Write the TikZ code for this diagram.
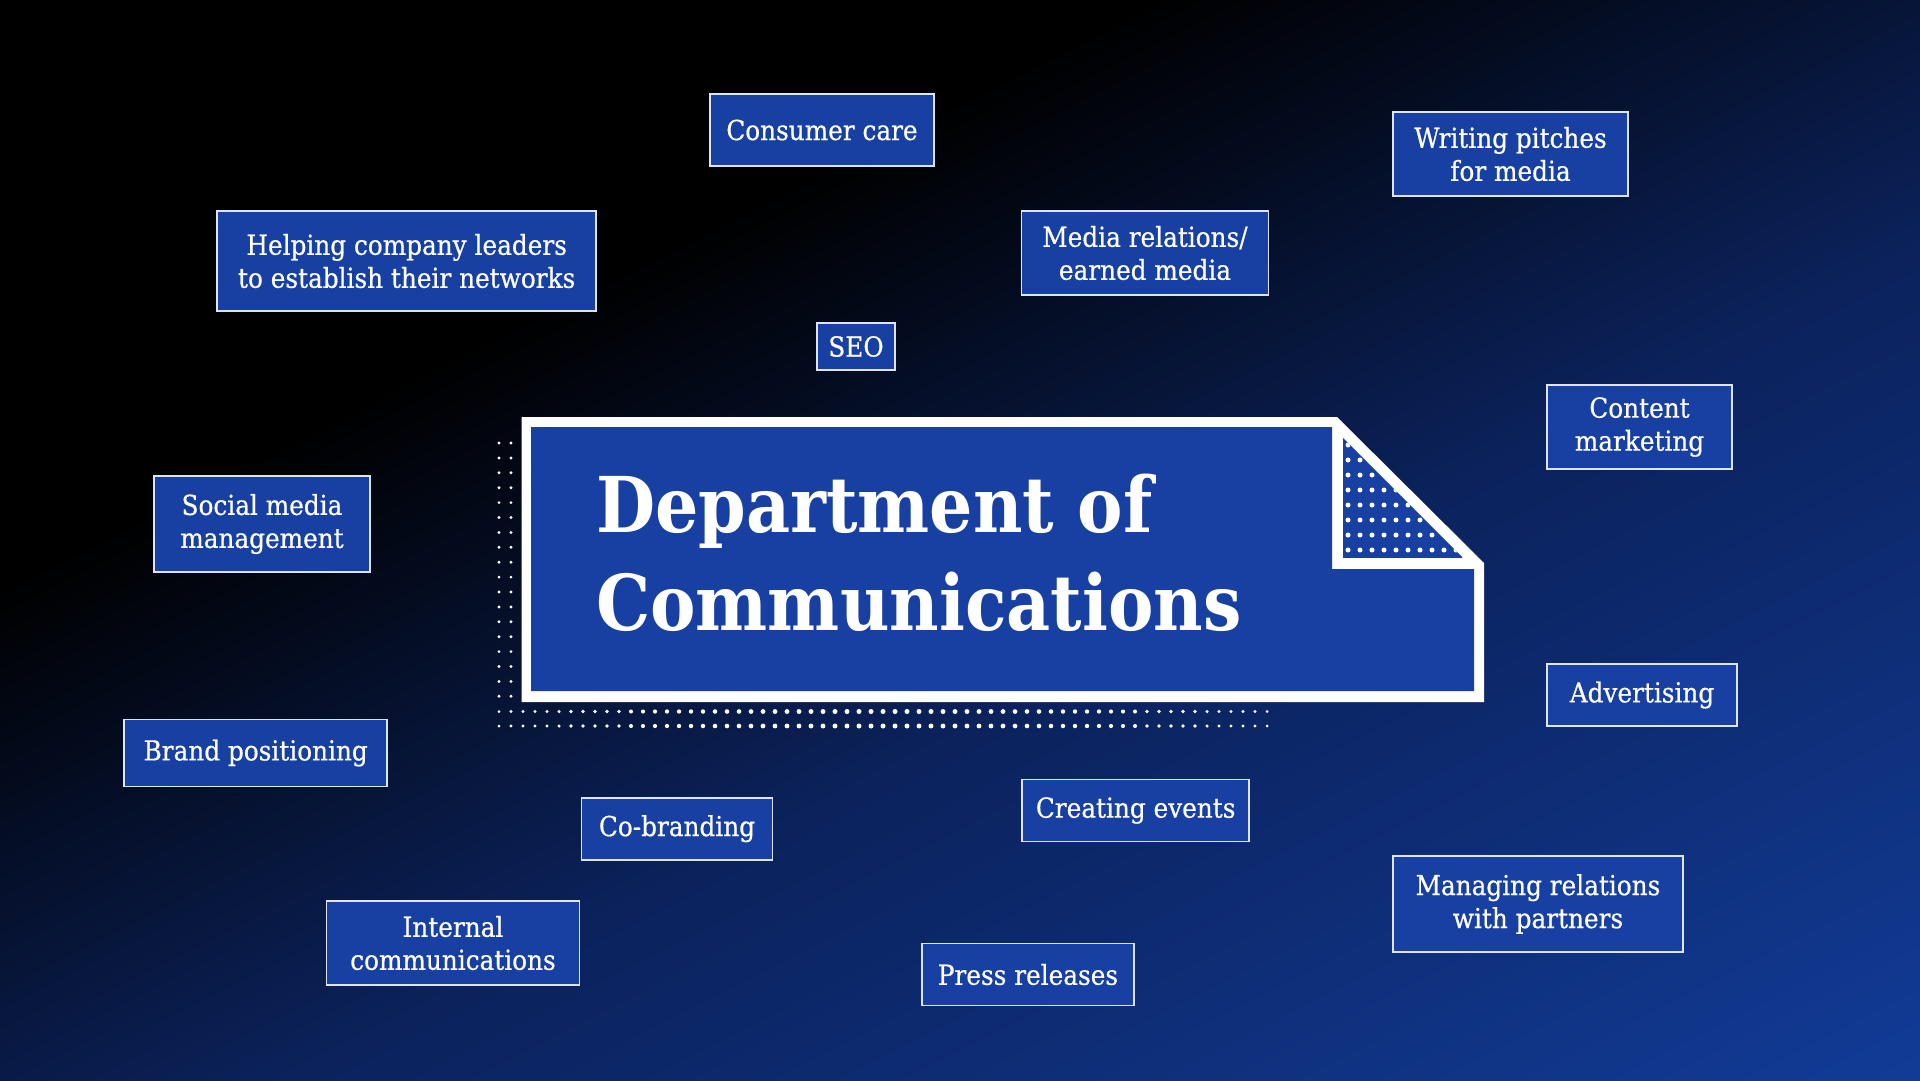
\documentclass[tikz,border=0pt]{standalone}
\usepackage{fontspec}
\setmainfont{DejaVu Serif}
\newfontfamily\boxfont{DejaVu Serif}[FakeStretch=0.9, FakeBold=0.6]
\newfontfamily\titlefont{DejaVu Serif}[FakeStretch=0.885]
\usepackage{tikz}
\usetikzlibrary{positioning, shapes.geometric}

\definecolor{deptblue}{RGB}{23,64,162}
\definecolor{edgegrey}{RGB}{222,228,242}
\definecolor{bgnavy}{RGB}{11,34,92}
\definecolor{bgblue}{RGB}{19,64,162}

\pgfdeclarehorizontalshading{bgfade}{100bp}{color(0bp)=(black); color(41bp)=(black); color(54bp)=(bgnavy); color(74bp)=(bgblue); color(100bp)=(bgblue)}

\begin{document}
\begin{tikzpicture}[x=1pt, y=-1pt]
    % Stili per i riquadri
    \tikzset{
        topic/.style={
            draw=edgegrey,
            line width=1.6pt,
            fill=deptblue,
            text=white,
            font=\boxfont\fontsize{27.5}{33}\selectfont,
            align=center,
            inner sep=0pt
        },
        title/.style={
            text=white,
            font=\titlefont\bfseries\fontsize{77}{98}\selectfont,
            inner sep=0pt
        },
        dot/.style={fill=white}
    }

    \useasboundingbox (0,0) rectangle (1920,1080);

    % --- Sfondo sfumato ---
    \begin{scope}
        \clip (0,0) rectangle (1920,1080);
        \shade[shading=bgfade, shading angle=-63] (-140,-560) rectangle (2060,1640);
    \end{scope}

    % --- Puntini a sinistra e sotto ---
    \foreach \k in {0,...,17} {
        \fill[dot] (499, 443+14.9*\k) circle (1.6);
        \fill[dot] (511, 443+14.9*\k) circle (1.6);
    }
    \foreach \j in {0,...,64} {
        \fill[dot] (499+12*\j, 711.5) circle ({1.5+1.0*sin(180*\j/64)});
        \fill[dot] (499+12*\j, 726) circle ({1.5+1.0*sin(180*\j/64)});
    }

    % --- Foglio centrale ---
    \fill[white] (521.5,417) -- (1337,417) -- (1484,563) -- (1484,702) -- (521.5,702) -- cycle;
    \fill[deptblue] (531,427) -- (1332,427) -- (1332,569) -- (1474,569) -- (1474,691) -- (531,691) -- cycle;

    % Angolo piegato con puntini
    \begin{scope}
        \clip (1343,438) -- (1343,558) -- (1463,558) -- cycle;
        \fill[deptblue] (1343,438) rectangle (1463,558);
        \foreach \i in {0,...,9} {
            \foreach \k in {0,...,7} {
                \fill[dot] (1348+12*\i, 445+15*\k) circle (2.5);
            }
        }
    \end{scope}

    % Titolo
    \node[title, anchor=base west] (titleA) at (596,532) {Department of};
    \node[title, anchor=base west] (titleB) at (596,630) {Communications};

    % --- Riquadri ---
    \node[topic, minimum width=224, minimum height=72] (consumer) at (822,130) {Consumer care};
    \node[topic, minimum width=379, minimum height=100] (leaders) at (406.7,261) {Helping company leaders\\to establish their networks};
    \node[topic, minimum width=78, minimum height=47] (seo) at (856,346.5) {SEO};
    \node[topic, minimum width=247, minimum height=84] (mediarel) at (1145,253) {Media relations/\\earned media};
    \node[topic, minimum width=235, minimum height=84] (pitches) at (1510.5,154) {Writing pitches\\for media};
    \node[topic, minimum width=185, minimum height=84] (content) at (1639.5,427) {Content\\marketing};
    \node[topic, minimum width=216, minimum height=96] (social) at (262,524) {Social media\\management};
    \node[topic, minimum width=190, minimum height=62] (advert) at (1642,695) {Advertising};
    \node[topic, minimum width=263, minimum height=67] (brand) at (255.7,753) {Brand positioning};
    \node[topic, minimum width=191, minimum height=62] (cobrand) at (677,828.7) {Co-branding};
    \node[topic, minimum width=253, minimum height=84] (internal) at (453,943) {Internal\\communications};
    \node[topic, minimum width=227, minimum height=62] (events) at (1135.7,810.5) {Creating events};
    \node[topic, minimum width=212, minimum height=62] (press) at (1028,974.5) {Press releases};
    \node[topic, minimum width=290, minimum height=96] (partners) at (1538,904) {Managing relations\\with partners};
\end{tikzpicture}
\end{document}
